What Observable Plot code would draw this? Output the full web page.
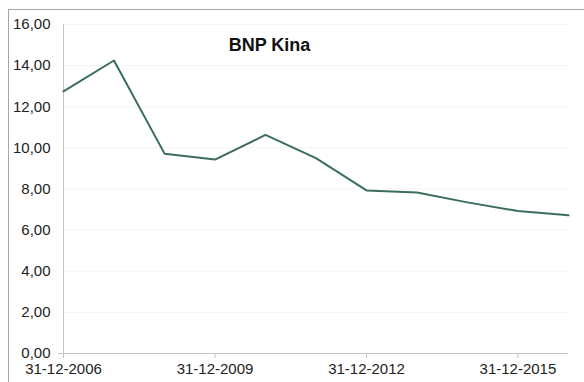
<!DOCTYPE html>
<html>
<head>
<meta charset="utf-8">
<script src="https://cdn.jsdelivr.net/npm/d3@7"></script>
<script src="https://cdn.jsdelivr.net/npm/@observablehq/plot@0.6"></script>
<style>
  html, body { margin: 0; padding: 0; background: #fff; }
  #wrap { position: relative; width: 584px; height: 382px; overflow: hidden; }
  #frame { position: absolute; left: 8px; top: 9px; width: 600px; height: 400px;
           border-top: 1px solid #a6a6a6; border-left: 1px solid #a6a6a6; }
  #chart { position: absolute; left: 0; top: 0; }
</style>
</head>
<body>
<div id="wrap"><div id="frame"></div><div id="chart"></div></div>
<script>
const dates = ["2006-12-31","2007-12-31","2008-12-31","2009-12-31","2010-12-31","2011-12-31",
               "2012-12-31","2013-12-31","2014-12-31","2015-12-31","2016-12-31"];
const values = [12.75, 14.25, 9.72, 9.43, 10.63, 9.5, 7.93, 7.83, 7.35, 6.93, 6.72];
const xTicks = ["2006-12-31","2009-12-31","2012-12-31","2015-12-31"];
const yTicks = [0, 2, 4, 6, 8, 10, 12, 14, 16];
const title = "BNP Kina";

const data = dates.map((d, i) => ({date: new Date(d), value: values[i]}));
const fmtY = v => v.toFixed(2).replace(".", ",");
const fmtX = d3.utcFormat("%d-%m-%Y");

const chart = Plot.plot({
  width: 584,
  height: 382,
  marginLeft: 63,
  marginRight: 16,
  marginTop: 24,
  marginBottom: 29,
  style: {fontFamily: "'Liberation Sans', Arial, sans-serif", fontSize: "15px", color: "#222", background: "transparent"},
  x: {type: "utc", domain: [new Date(dates[0]), new Date(dates[dates.length - 1])], label: null},
  y: {domain: [0, 16], label: null},
  marks: [
    Plot.gridY(yTicks, {stroke: "#f3f3f3", strokeOpacity: 1}),
    Plot.ruleX([new Date(dates[0])], {stroke: "#c4c4c4"}),
    Plot.ruleY([0], {stroke: "#c4c4c4"}),
    Plot.axisY(yTicks, {tickSize: 0, tickPadding: 13, tickFormat: fmtY, fill: "#222", label: null}),
    Plot.axisY([0], {tickSize: 5, tickFormat: () => "", stroke: "#c4c4c4", label: null}),
    Plot.axisX(xTicks.map(d => new Date(d)), {tickSize: 5, tickPadding: 5, tickFormat: fmtX, stroke: "#c4c4c4", fill: "#222", label: null}),
    Plot.line(data, {x: "date", y: "value", stroke: "#3b6e58", strokeWidth: 2}),
    Plot.text([title], {frameAnchor: "top-left", dx: 206, dy: 14, text: d => d, fontWeight: "bold", fontSize: 18, fill: "#111", textAnchor: "middle"})
  ]
});
document.getElementById("chart").appendChild(chart);
</script>
</body>
</html>
